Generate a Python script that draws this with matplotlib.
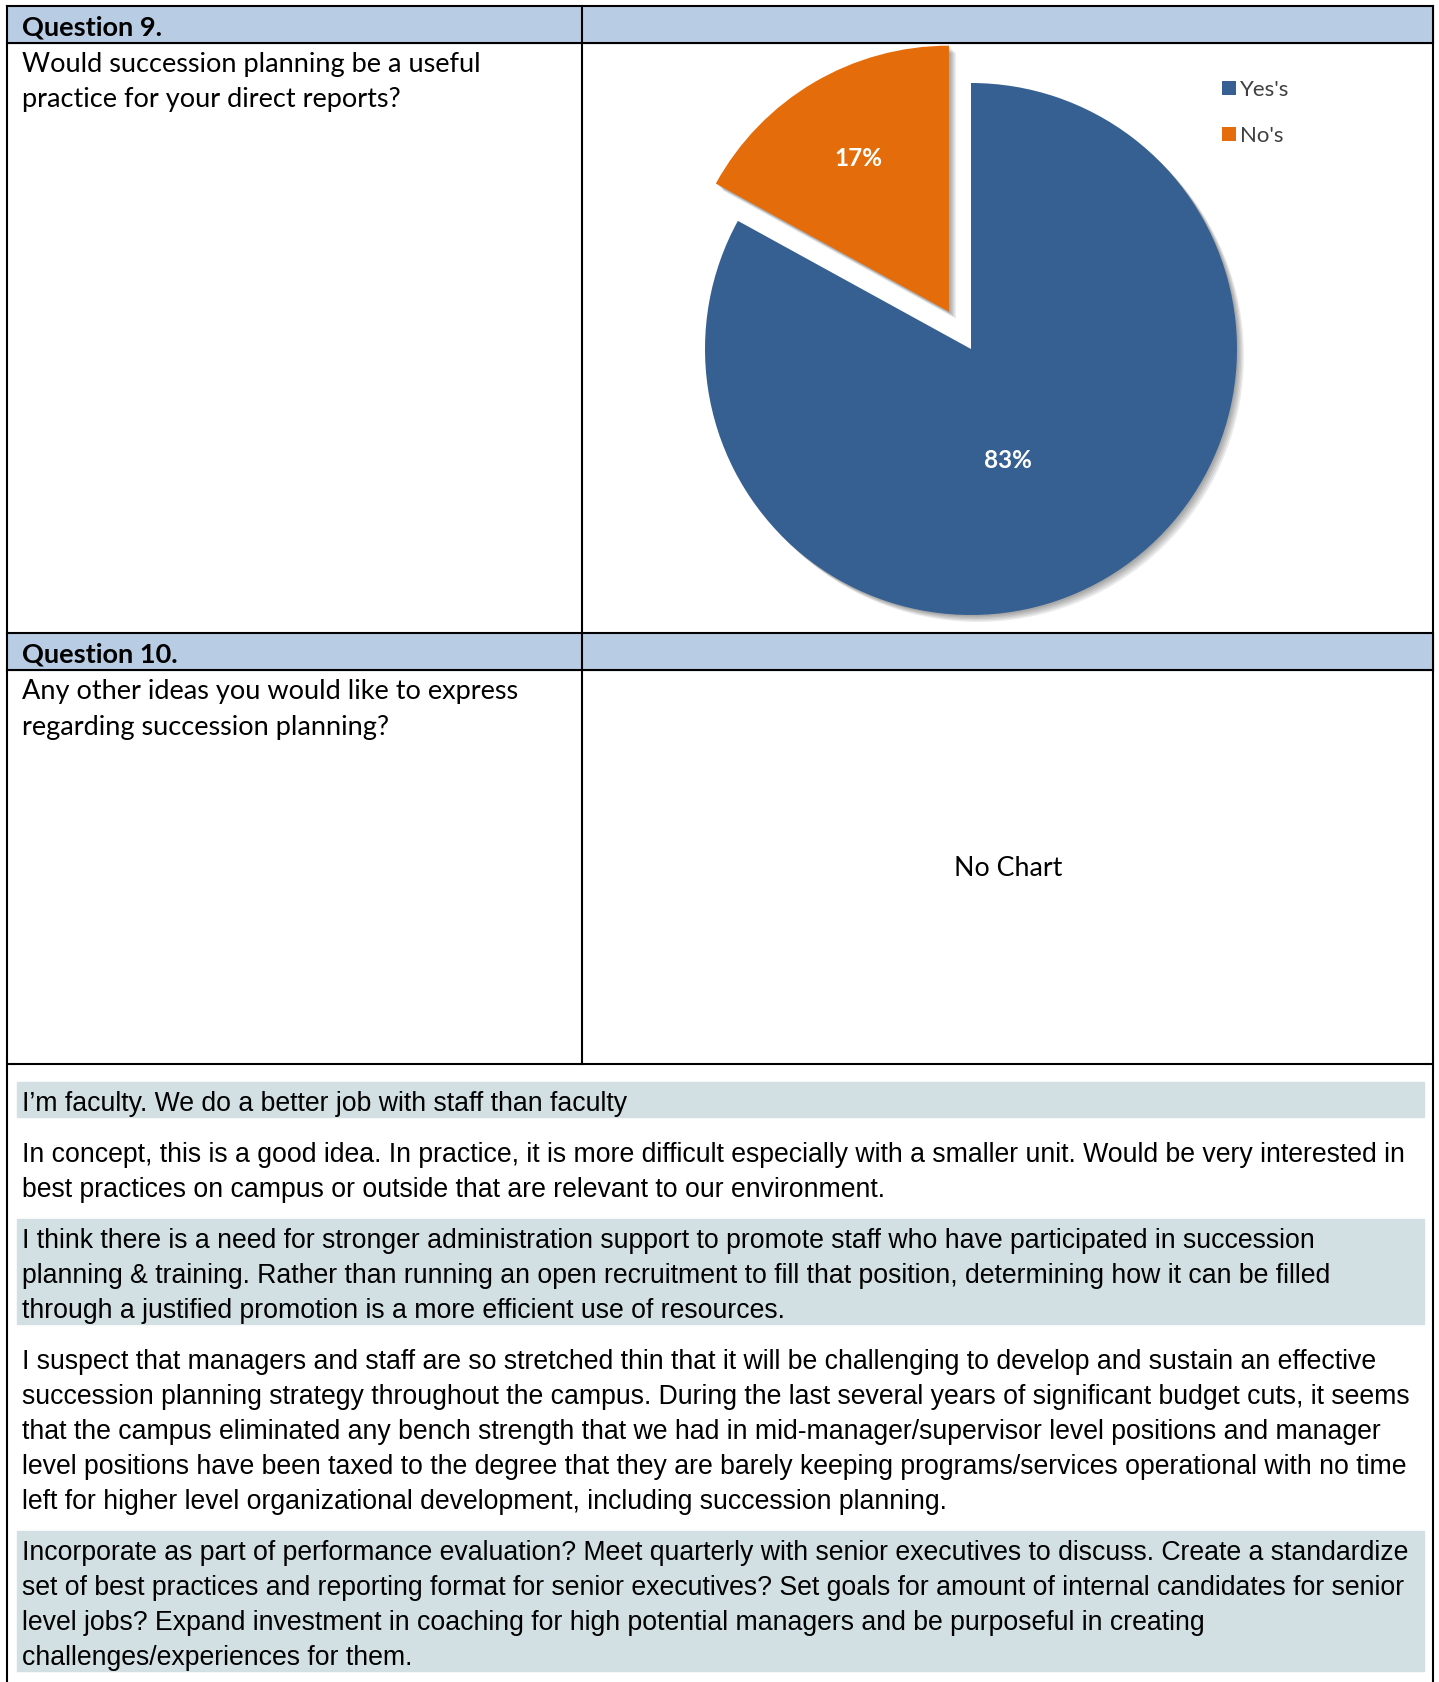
import matplotlib.pyplot as plt
import matplotlib.patheffects as pe
from matplotlib.patches import Rectangle, Patch

# --- survey data ---
categories = ["Yes's", "No's"]
values = [83, 17]
pie_colors = ["#366092", "#E46C0A"]
explode = [0, 0.163]

questions = [
    ("Question 9.", ["Would succession planning be a useful",
                     "practice for your direct reports?"]),
    ("Question 10.", ["Any other ideas you would like to express",
                      "regarding succession planning?"]),
]

comments = [
    ["I\u2019m faculty. We do a better job with staff than faculty"],
    ["In concept, this is a good idea. In practice, it is more difficult especially with a smaller unit. Would be very interested in",
     "best practices on campus or outside that are relevant to our environment."],
    ["I think there is a need for stronger administration support to promote staff who have participated in succession",
     "planning & training. Rather than running an open recruitment to fill that position, determining how it can be filled",
     "through a justified promotion is a more efficient use of resources."],
    ["I suspect that managers and staff are so stretched thin that it will be challenging to develop and sustain an effective",
     "succession planning strategy throughout the campus. During the last several years of significant budget cuts, it seems",
     "that the campus eliminated any bench strength that we had in mid-manager/supervisor level positions and manager",
     "level positions have been taxed to the degree that they are barely keeping programs/services operational with no time",
     "left for higher level organizational development, including succession planning."],
    ["Incorporate as part of performance evaluation? Meet quarterly with senior executives to discuss. Create a standardize",
     "set of best practices and reporting format for senior executives? Set goals for amount of internal candidates for senior",
     "level jobs? Expand investment in coaching for high potential managers and be purposeful in creating",
     "challenges/experiences for them."],
]

W, H = 1439, 1682
HEADER = "#B8CCE4"
SHADE = "#D2E0E4"
LW = 1.5
Q_FONT = "Lato"
C_FONT = "Liberation Sans"

fig = plt.figure(figsize=(W / 100, H / 100), dpi=100)
ax = fig.add_axes([0, 0, 1, 1])
ax.set_xlim(0, W)
ax.set_ylim(H, 0)
ax.axis("off")

# table frame
x_left, x_mid, x_right = 7, 582, 1433
header_rows = [(5.7, 42.7), (633, 670)]
for y0, y1 in header_rows:
    ax.add_patch(Rectangle((x_left, y0), x_right - x_left, y1 - y0, color=HEADER, zorder=0))
for y in [5.7, 42.7, 633, 670, 1064]:
    ax.plot([x_left, x_right], [y, y], color="black", lw=LW, solid_capstyle="projecting")
ax.plot([x_left, x_left], [5.7, H], color="black", lw=LW)
ax.plot([x_right, x_right], [5.7, H], color="black", lw=LW)
ax.plot([x_mid, x_mid], [5.7, 1064], color="black", lw=LW)

# question cells
for (title, lines), (y0, y1) in zip(questions, header_rows):
    ax.text(21.5, (y0 + y1) / 2 + 3, title, fontsize=19.5, fontweight="bold",
            family=Q_FONT, va="center", ha="left", color="black")
    for i, line in enumerate(lines):
        ax.text(21.5, y1 + 21.5 + i * 35.5, line, fontsize=19.5, family=Q_FONT,
                va="center", ha="left", color="black")

ax.text(1008, 868, "No Chart", fontsize=19.3, family=Q_FONT, va="center", ha="center")

# free-text answers, alternating shading
top = 1082
line_h = 35.0
for k, lines in enumerate(comments):
    h = len(lines) * line_h
    if k % 2 == 0:
        ax.add_patch(Rectangle((17, top), 1424 - 17, h, color=SHADE, zorder=0))
    for i, line in enumerate(lines):
        ax.text(21.5, top + 22 + i * line_h, line, fontsize=19.2, family=C_FONT,
                va="center", ha="left", color="black")
    top += h + 16

# pie chart
cx, cy, R = 971, 349, 266
lim = 1.2
pax = fig.add_axes([(cx - lim * R) / W, (H - cy - lim * R) / H, 2 * lim * R / W, 2 * lim * R / H])
wedges, _, autotexts = pax.pie(values, colors=pie_colors, explode=explode, startangle=90,
                               counterclock=False, autopct="%1.0f%%", pctdistance=0.67,
                               textprops=dict(color="white", fontsize=17.5, fontweight="bold", family=Q_FONT))
soft_shadow = [pe.SimplePatchShadow(offset=(o, -o), shadow_rgbFace="black", alpha=0.08)
               for o in (1, 2, 3, 4, 5)] + [pe.Normal()]
for w in wedges:
    w.set_path_effects(soft_shadow)
autotexts[0].set_position((0.14, -0.42))
pax.set_xlim(-lim, lim)
pax.set_ylim(-lim, lim)
pax.axis("off")

handles = [Patch(facecolor=c, edgecolor="none") for c in pie_colors]
leg = pax.legend(handles, categories, loc="upper left", bbox_to_anchor=(1222 / W, 1 - 80 / H),
                 bbox_transform=fig.transFigure, frameon=False,
                 handlelength=0.62, handleheight=0.62, handletextpad=0.2,
                 labelspacing=1.15, borderpad=0, borderaxespad=0, prop=dict(family=Q_FONT, size=16))
for t in leg.get_texts():
    t.set_color("#404040")

fig.savefig("out.png", dpi=100)
